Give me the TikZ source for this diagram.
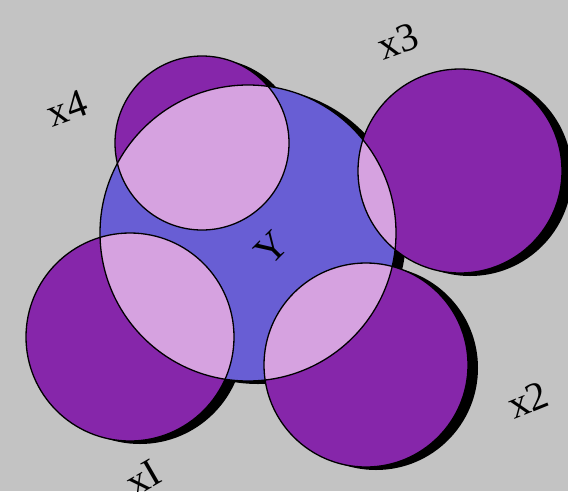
\documentclass[tikz,border=0pt]{standalone}
\usepackage{fontspec}
\setmainfont{Liberation Serif}
\usepackage{tikz}
\definecolor{bggrey}{RGB}{195,195,195}
\definecolor{setblue}{RGB}{104,94,212}
\definecolor{setpurple}{RGB}{134,38,170}
\definecolor{lenspink}{RGB}{214,162,224}
\begin{document}
\begin{tikzpicture}[x=1pt,y=-1pt,
  lbl/.style={font=\fontsize{40}{40}\selectfont,inner sep=0pt},
  rim/.style={draw=black,line width=1.3pt}]
\fill[bggrey] (0,0) rectangle (568,491);
\useasboundingbox (0,0) rectangle (568,491);
\coordinate (cY) at (248,233);
\coordinate (c1) at (130,337);
\coordinate (c2) at (366,365);
\coordinate (c3) at (460,171);
\coordinate (c4) at (202,143);
% shadows
\foreach \c/\r in {cY/148,c1/104,c2/102,c3/102,c4/87}
  \fill[black] ([shift={(10,3)}]\c) circle (\r pt);
% sets
\fill[setblue] (cY) circle (148pt);
\foreach \c/\r in {c1/104,c2/102,c3/102,c4/87}
  \fill[setpurple] (\c) circle (\r pt);
% overlaps with Y
\foreach \c/\r in {c1/104,c2/102,c3/102,c4/87}{
  \begin{scope}
    \clip (cY) circle (148pt);
    \fill[lenspink] (\c) circle (\r pt);
  \end{scope}}
% outlines
\foreach \c/\r in {cY/148,c1/104,c2/102,c3/102,c4/87}
  \draw[rim] (\c) circle (\r pt);
% labels
\node[lbl,rotate=45] (y) at (271,248) {Y};
\node[lbl,rotate=30] (x1) at (143,478) {xI};
\node[lbl,rotate=22] (x2) at (528,400) {x2};
\node[lbl,rotate=20] (x3) at (398,41) {x3};
\node[lbl,rotate=20] (x4) at (67,108) {x4};
\end{tikzpicture}
\end{document}
